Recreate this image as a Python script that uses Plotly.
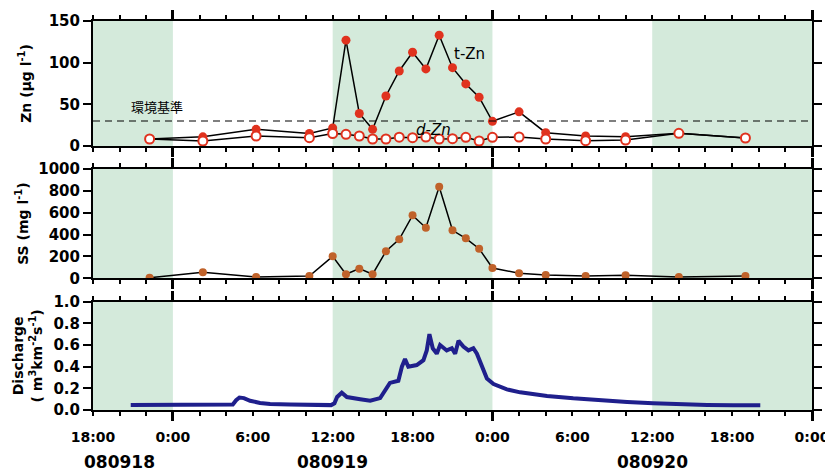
import plotly.graph_objects as go

# ---------------- data ----------------
zn_time = ["2008-09-18 22:15", "2008-09-19 02:15", "2008-09-19 06:15", "2008-09-19 10:15",
           "2008-09-19 12:00", "2008-09-19 13:00", "2008-09-19 14:00", "2008-09-19 15:00",
           "2008-09-19 16:00", "2008-09-19 17:00", "2008-09-19 18:00", "2008-09-19 19:00",
           "2008-09-19 20:00", "2008-09-19 21:00", "2008-09-19 22:00", "2008-09-19 23:00",
           "2008-09-20 00:00", "2008-09-20 02:00", "2008-09-20 04:00", "2008-09-20 07:00",
           "2008-09-20 10:00", "2008-09-20 14:00", "2008-09-20 19:00"]
t_zn = [8.4, 11, 20, 15, 21.6, 127, 39, 20, 60, 90, 112.5, 92.5,
        133, 94, 74.5, 58.5, 29.6, 41, 16, 12, 11.2, 15.2, 9.6]
d_zn = [8.4, 6, 12, 10, 15, 14, 12, 8.4, 8.4, 10.6, 10, 10.8,
        8.4, 8.8, 10.4, 6, 10.4, 10.8, 8.4, 6.4, 7.2, 15.2, 9.6]
ss = [5, 55, 12, 21, 201, 37, 88, 37, 247, 357, 576, 463,
      838, 439, 366, 271, 94, 46, 30, 21, 27, 12, 21]

q_time = ["2008-09-18 20:50", "2008-09-19 00:00", "2008-09-19 02:00", "2008-09-19 04:30",
          "2008-09-19 04:45", "2008-09-19 05:00", "2008-09-19 05:20", "2008-09-19 05:48",
          "2008-09-19 06:33", "2008-09-19 07:18", "2008-09-19 08:48", "2008-09-19 11:03",
          "2008-09-19 11:53", "2008-09-19 12:08", "2008-09-19 12:20", "2008-09-19 12:41",
          "2008-09-19 13:04", "2008-09-19 14:04", "2008-09-19 14:49", "2008-09-19 15:34",
          "2008-09-19 15:56", "2008-09-19 16:18", "2008-09-19 16:56", "2008-09-19 17:12",
          "2008-09-19 17:26", "2008-09-19 17:41", "2008-09-19 18:19", "2008-09-19 18:49",
          "2008-09-19 19:04", "2008-09-19 19:16", "2008-09-19 19:31", "2008-09-19 19:49",
          "2008-09-19 20:04", "2008-09-19 20:34", "2008-09-19 20:57", "2008-09-19 21:12",
          "2008-09-19 21:27", "2008-09-19 21:49", "2008-09-19 22:12", "2008-09-19 22:34",
          "2008-09-19 22:50", "2008-09-19 23:12", "2008-09-19 23:35", "2008-09-20 00:05",
          "2008-09-20 01:05", "2008-09-20 02:05", "2008-09-20 04:06", "2008-09-20 06:04",
          "2008-09-20 08:05", "2008-09-20 10:07", "2008-09-20 12:04", "2008-09-20 14:06",
          "2008-09-20 16:08", "2008-09-20 18:05", "2008-09-20 20:07"]
q = [0.045, 0.045, 0.047, 0.05, 0.09, 0.115, 0.11, 0.085,
     0.065, 0.056, 0.05, 0.045, 0.045, 0.062, 0.12, 0.16,
     0.12, 0.10, 0.086, 0.11, 0.185, 0.25, 0.27, 0.40,
     0.47, 0.40, 0.415, 0.46, 0.55, 0.70, 0.57, 0.52,
     0.60, 0.55, 0.57, 0.52, 0.64, 0.585, 0.55, 0.57,
     0.52, 0.40, 0.29, 0.24, 0.19, 0.163, 0.13, 0.108,
     0.088, 0.075, 0.063, 0.053, 0.047, 0.044, 0.043]

env_standard = 30  # 環境基準 (μg/l)

x_range = ["2008-09-18 18:00", "2008-09-21 00:00"]
day_ticks = ["2008-09-19 00:00", "2008-09-20 00:00", "2008-09-21 00:00"]
label_ticks = ["2008-09-18 18:00", "2008-09-19 00:00", "2008-09-19 06:00", "2008-09-19 12:00",
               "2008-09-19 18:00", "2008-09-20 00:00", "2008-09-20 06:00", "2008-09-20 12:00",
               "2008-09-20 18:00", "2008-09-21 00:00"]
label_text = ["18:00", "0:00", "6:00", "12:00", "18:00", "0:00", "6:00", "12:00", "18:00", "0:00"]
date_pos = ["2008-09-18 20:00", "2008-09-19 12:00", "2008-09-20 12:00"]
date_text = ["080918", "080919", "080920"]

shade_start = ["2008-09-18 18:00", "2008-09-19 12:00", "2008-09-20 12:00"]
shade_end = ["2008-09-19 00:00", "2008-09-20 00:00", "2008-09-21 00:00"]

# ---------------- styles ----------------
RED = "#e0321e"
BROWN = "#c0622a"
NAVY = "#1f1f8c"
GREEN = "#d4eadb"
FONT = "DejaVu Sans"

fig = go.Figure()
fig.add_trace(go.Scatter(x=zn_time, y=t_zn, mode="lines+markers", name="t-Zn",
                         line=dict(color="black", width=1.5),
                         marker=dict(color=RED, size=9), xaxis="x", yaxis="y"))
fig.add_trace(go.Scatter(x=zn_time, y=d_zn, mode="lines+markers", name="d-Zn",
                         line=dict(color="black", width=1.5),
                         marker=dict(color="white", size=9, line=dict(color=RED, width=2)),
                         xaxis="x", yaxis="y"))
fig.add_trace(go.Scatter(x=zn_time, y=ss, mode="lines+markers", name="SS",
                         line=dict(color="black", width=1.5),
                         marker=dict(color=BROWN, size=8), xaxis="x2", yaxis="y2"))
fig.add_trace(go.Scatter(x=q_time, y=q, mode="lines", name="Discharge",
                         line=dict(color=NAVY, width=4), xaxis="x4", yaxis="y3"))

def xaxis_common(anchor):
    return dict(type="date", range=x_range, anchor=anchor, domain=[0, 1], automargin=False,
                showline=True, linecolor="black", linewidth=2, mirror="ticks",
                ticks="outside", tickmode="array", tickvals=day_ticks,
                ticklen=9, tickwidth=3, tickcolor="black",
                showticklabels=False, showgrid=False, zeroline=False,
                minor=dict(ticks="outside", tickmode="linear", tick0=x_range[0],
                           dtick=2 * 3600 * 1000, ticklen=4, tickwidth=2,
                           tickcolor="black", showgrid=False))

def yaxis_common(anchor, domain, rng, tickvals, title, standoff):
    return dict(anchor=anchor, domain=domain, range=rng, tickmode="array", tickvals=tickvals,
                automargin=False,
                showline=True, linecolor="black", linewidth=2, mirror="ticks",
                ticks="outside", ticklen=8, tickwidth=2, tickcolor="black",
                showgrid=False, zeroline=False,
                tickfont=dict(family=FONT, size=15, color="black", weight="bold"),
                title=dict(text=title, standoff=standoff,
                           font=dict(family=FONT, size=14, color="black", weight="bold")))

# page body has an 8px default margin, so margins are offset by 8px
layout = dict(
    width=833, height=471,
    margin=dict(l=85, r=29, t=13, b=69, autoexpand=False),
    paper_bgcolor="white", plot_bgcolor="white",
    showlegend=False,
    xaxis=xaxis_common("y"),
    xaxis2=xaxis_common("y2"),
    xaxis3=xaxis_common("y3"),
    xaxis4=dict(type="date", range=x_range, overlaying="x3", anchor="y3", side="bottom",
                automargin=False,
                tickmode="array", tickvals=label_ticks, ticktext=label_text,
                ticks="", showline=False, showgrid=False, zeroline=False,
                ticklabelstandoff=17,
                tickfont=dict(family=FONT, size=14, color="black", weight="bold")),
    yaxis=yaxis_common("x", [0.6787, 1.0], [0, 150], [0, 50, 100, 150],
                       "Zn (μg l<sup>-1</sup>)", 14),
    yaxis2=yaxis_common("x2", [0.3386, 0.6195], [0, 1000], [0, 200, 400, 600, 800, 1000],
                        "SS (mg l<sup>-1</sup>)", 6),
    yaxis3=yaxis_common("x3", [0.0, 0.2784], [0, 1.0], [0, 0.2, 0.4, 0.6, 0.8, 1.0],
                        "Discharge<br>( m<sup>3</sup>km<sup>-2</sup>s<sup>-1</sup>)", 8),
)
layout["yaxis3"]["tickformat"] = ".1f"
fig.update_layout(**layout)

shapes = []
for xr, yr in [("x", "y"), ("x2", "y2"), ("x3", "y3")]:
    for s0, s1 in zip(shade_start, shade_end):
        shapes.append(dict(type="rect", xref=xr, yref=yr + " domain", x0=s0, x1=s1,
                           y0=0, y1=1, fillcolor=GREEN, line=dict(width=0), layer="below"))
shapes.append(dict(type="line", xref="x domain", yref="y", x0=0, x1=1,
                   y0=env_standard, y1=env_standard,
                   line=dict(color="black", width=1.2, dash="7px,5px")))
fig.update_layout(shapes=shapes)

annotations = [
    dict(text="環境基準", x="2008-09-18 22:50", y=env_standard + 3, xref="x", yref="y",
         showarrow=False, yanchor="bottom",
         font=dict(family="Noto Sans CJK JP", size=13, color="black")),
    dict(text="t-Zn", x="2008-09-19 22:15", y=111, xref="x", yref="y", showarrow=False,
         font=dict(family=FONT, size=15, color="black")),
    dict(text="<i>d-Zn</i>", x="2008-09-19 19:36", y=19, xref="x", yref="y", showarrow=False,
         font=dict(family=FONT, size=15, color="black")),
]
for dp, dt in zip(date_pos, date_text):
    annotations.append(dict(text=dt, x=dp, y=-0.1337, xref="x3", yref="paper",
                            showarrow=False, yanchor="middle",
                            font=dict(family=FONT, size=17, color="black", weight="bold")))
fig.update_layout(annotations=annotations)

fig.write_html("out.html")
